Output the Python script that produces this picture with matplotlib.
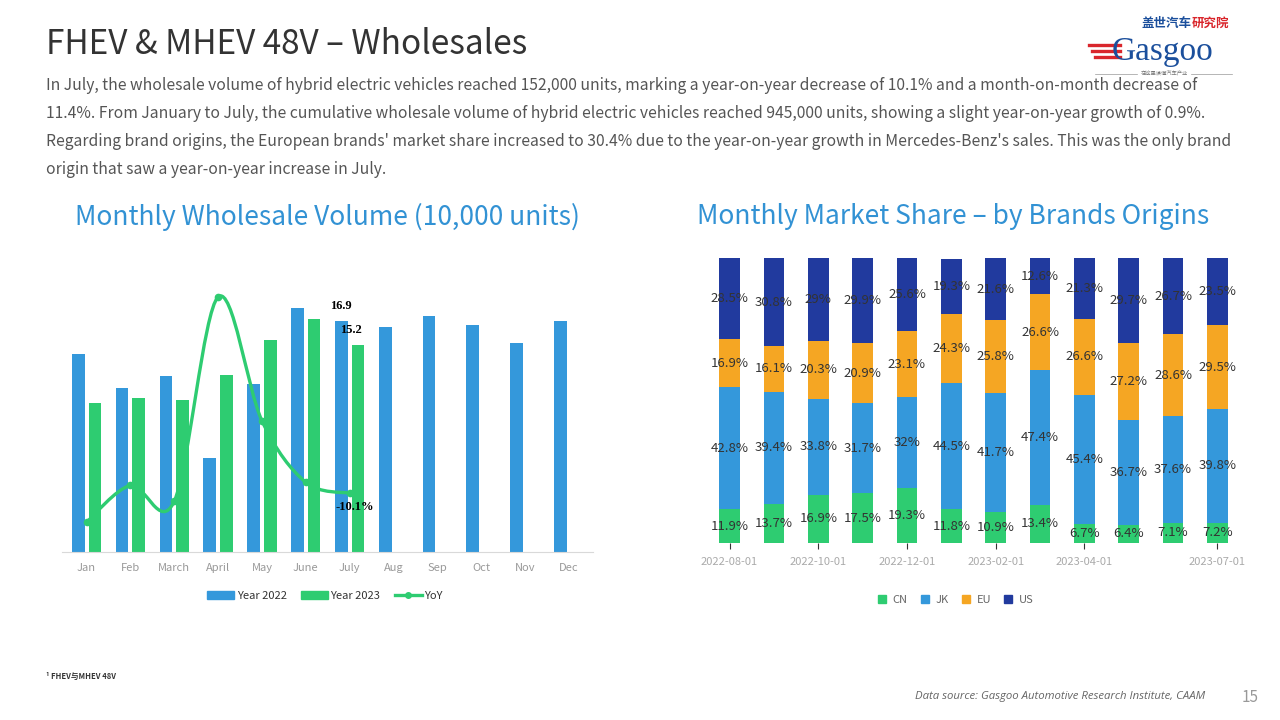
import matplotlib
matplotlib.use("Agg")
import matplotlib.pyplot as plt
import numpy as np
from matplotlib.path import Path
from matplotlib.patches import PathPatch, Patch
from matplotlib.lines import Line2D

plt.rcParams['font.family'] = ['Noto Sans CJK SC', 'DejaVu Sans']

# ---- data: monthly wholesale volume (10,000 units)
months = ['Jan', 'Feb', 'March', 'April', 'May', 'June', 'July',
          'Aug', 'Sep', 'Oct', 'Nov', 'Dec']
vol_2022 = [14.5, 12.0, 12.9, 6.85, 12.3, 17.9, 16.9, 16.5, 17.3, 16.6, 15.3, 16.9]
vol_2023 = [10.9, 11.3, 11.1, 13.0, 15.5, 17.1, 15.2]
yoy = [-24.8, -6.1, -14.2, 89.8, 26.8, -4.5, -10.1]

# ---- data: market share by brand origin (%)
share_months = ['2022-08-01', '2022-09-01', '2022-10-01', '2022-11-01', '2022-12-01',
                '2023-01-01', '2023-02-01', '2023-03-01', '2023-04-01', '2023-05-01',
                '2023-06-01', '2023-07-01']
shown_ticks = ['2022-08-01', '2022-10-01', '2022-12-01', '2023-02-01', '2023-04-01', '2023-07-01']
share_cn = [11.9, 13.7, 16.9, 17.5, 19.3, 11.8, 10.9, 13.4, 6.7, 6.4, 7.1, 7.2]
share_jk = [42.8, 39.4, 33.8, 31.7, 32, 44.5, 41.7, 47.4, 45.4, 36.7, 37.6, 39.8]
share_eu = [16.9, 16.1, 20.3, 20.9, 23.1, 24.3, 25.8, 26.6, 26.6, 27.2, 28.6, 29.5]
share_us = [28.5, 30.8, 29, 29.9, 25.6, 19.3, 21.6, 12.6, 21.3, 29.7, 26.7, 23.5]

BLUE = '#3498DB'
GREEN = '#2ECC71'
ORANGE = '#F5A623'
NAVY = '#213A9E'
TITLE_BLUE = '#3292D4'

fig = plt.figure(figsize=(12.8, 7.2), dpi=100)


def fx(px):
    return px / 1280


def fy(py):
    return 1 - py / 720


# ---- header text
fig.text(fx(46), fy(44), 'FHEV & MHEV 48V \u2013 Wholesales', fontsize=24,
         color='#333333', va='center', ha='left', fontweight='light')
para_lines = [
    "In July, the wholesale volume of hybrid electric vehicles reached 152,000 units, marking a year-on-year decrease of 10.1% and a month-on-month decrease of",
    "11.4%. From January to July, the cumulative wholesale volume of hybrid electric vehicles reached 945,000 units, showing a slight year-on-year growth of 0.9%.",
    "Regarding brand origins, the European brands' market share increased to 30.4% due to the year-on-year growth in Mercedes-Benz's sales. This was the only brand",
    "origin that saw a year-on-year increase in July.",
]
for i, line in enumerate(para_lines):
    fig.text(fx(46), fy(86 + 27.7 * i), line, fontsize=11.3, color='#555555',
             va='center', ha='left', fontweight='light')

# ---- logo
fig.text(fx(1192), fy(23), '盖世汽车', fontsize=9, color='#1B4F9C', fontweight='bold',
         ha='right', va='center')
fig.text(fx(1192), fy(23), '研究院', fontsize=9, color='#D9262C', fontweight='bold',
         ha='left', va='center')
fig.text(fx(1112), fy(52), 'Gasgoo', fontsize=24, color='#1B4F9C', family='Liberation Serif',
         ha='left', va='center')
for i, yy in enumerate([45, 51, 57]):
    fig.add_artist(Line2D([fx(1089 + i * 3), fx(1120)], [fy(yy), fy(yy)],
                          color='#D9262C', lw=2.4))
fig.text(fx(1164), fy(74), '在这里读懂汽车产业', fontsize=3.8, color='#777777',
         ha='center', va='center')
fig.add_artist(Line2D([fx(1095), fx(1137)], [fy(74), fy(74)], color='#999999', lw=0.5))
fig.add_artist(Line2D([fx(1191), fx(1232)], [fy(74), fy(74)], color='#999999', lw=0.5))

# ---- left chart: wholesale volume
ax = fig.add_axes([fx(62), fy(552), fx(531), 273 / 720])
x = np.arange(len(months))
w = 0.29
off = 0.19
ax.bar(x - off, vol_2022, width=w, color=BLUE, label='Year 2022')
ax.bar(np.arange(len(vol_2023)) + off, vol_2023, width=w, color=GREEN, label='Year 2023')
ax.set_xlim(-0.56, 11.55)
ax.set_ylim(0, 20)
ax.set_xticks(x)
ax.set_xticklabels(months, fontsize=8, color='#999999')
ax.tick_params(axis='x', length=0, pad=8)
ax.set_yticks([])
for s in ['top', 'right', 'left']:
    ax.spines[s].set_visible(False)
ax.spines['bottom'].set_color('#D9D9D9')

ax.text(6 - off, vol_2022[6] + 0.65, '16.9', fontsize=9, family='Liberation Serif',
        fontweight='bold', ha='center', va='bottom')
ax.text(6 + off - 0.15, vol_2023[6] + 0.65, '15.2', fontsize=9, family='Liberation Serif',
        fontweight='bold', ha='center', va='bottom')

ax2 = ax.twinx()
ax2.set_ylim(-40, 99)
ax2.set_yticks([])
for s in ['top', 'right', 'left', 'bottom']:
    ax2.spines[s].set_visible(False)

# smooth YoY line (Catmull-Rom as cubic Bezier)
px = np.arange(len(yoy), dtype=float)
py = np.array(yoy, dtype=float)
pts = np.column_stack([px, py])
ext = np.vstack([pts[0], pts, pts[-1]])
verts = [tuple(pts[0])]
codes = [Path.MOVETO]
for i in range(len(pts) - 1):
    p0, p1, p2, p3 = ext[i], ext[i + 1], ext[i + 2], ext[i + 3]
    c1 = p1 + (p2 - p0) / 6
    c2 = p2 - (p3 - p1) / 6
    verts += [tuple(c1), tuple(c2), tuple(p2)]
    codes += [Path.CURVE4] * 3
ax2.add_patch(PathPatch(Path(verts, codes), facecolor='none', edgecolor=GREEN, lw=2.4))
ax2.plot(px, py, 'o', color=GREEN, ms=4.5)
ax2.text(6.12, yoy[6] - 4, '-10.1%', fontsize=9, family='Liberation Serif',
         fontweight='bold', ha='center', va='top')

handles = [Patch(color=BLUE, label='Year 2022'), Patch(color=GREEN, label='Year 2023'),
           Line2D([], [], color=GREEN, lw=2.4, marker='o', ms=4, label='YoY')]
fig.legend(handles=handles, loc='center', bbox_to_anchor=(fx(325), fy(596)), ncol=3,
           frameon=False, fontsize=8, handlelength=2.4, handleheight=0.7,
           columnspacing=1.3, handletextpad=0.25, labelcolor='#333333')

fig.text(fx(327), fy(217), 'Monthly Wholesale Volume (10,000 units)', fontsize=19,
         color=TITLE_BLUE, ha='center', va='center')

# ---- right chart: market share stacked
bx = fig.add_axes([fx(703), fy(543), fx(541), 285 / 720])
xs = np.arange(len(share_months))
bottom = np.zeros(len(xs))
for vals, col in [(share_cn, GREEN), (share_jk, BLUE), (share_eu, ORANGE), (share_us, NAVY)]:
    vals = np.array(vals, dtype=float)
    bx.bar(xs, vals, width=0.47, bottom=bottom, color=col)
    for xi, b, v in zip(xs, bottom, vals):
        bx.text(xi, b + v / 2, f'{v:g}%', fontsize=9.5, color='#333333',
                ha='center', va='center')
    bottom += vals
bx.set_xlim(-0.6, 11.6)
bx.set_ylim(0, 100.1)
tick_idx = [share_months.index(t) for t in shown_ticks]
bx.set_xticks(tick_idx)
bx.set_xticklabels(shown_ticks, fontsize=8, color='#AAAAAA')
bx.tick_params(axis='x', length=4, color='#333333', pad=6)
bx.set_yticks([])
for s in ['top', 'right', 'left', 'bottom']:
    bx.spines[s].set_visible(False)

sq = dict(marker='s', linestyle='none', ms=5.5)
h2 = [Line2D([], [], color=GREEN, label='CN', **sq), Line2D([], [], color=BLUE, label='JK', **sq),
      Line2D([], [], color=ORANGE, label='EU', **sq), Line2D([], [], color=NAVY, label='US', **sq)]
fig.legend(handles=h2, loc='center', bbox_to_anchor=(fx(955), fy(600)), ncol=4,
           frameon=False, fontsize=8, handlelength=1.0, handletextpad=0.5,
           columnspacing=1.0, labelcolor='#666666')

fig.text(fx(953), fy(217), 'Monthly Market Share \u2013 by Brands Origins', fontsize=19,
         color=TITLE_BLUE, ha='center', va='center')

# ---- footer
fig.text(fx(46), fy(676), '\u00b9 FHEV与MHEV 48V', fontsize=5.5, color='#333333',
         fontweight='bold', ha='left', va='center')
fig.text(fx(1205), fy(697), 'Data source: Gasgoo Automotive Research Institute, CAAM',
         fontsize=8.2, color='#666666', style='italic', family=['Open Sans', 'DejaVu Sans'],
         ha='right', va='center')
fig.text(fx(1250), fy(697), '15', fontsize=11, color='#999999', ha='center', va='center')

fig.savefig('out.png', dpi=100)
